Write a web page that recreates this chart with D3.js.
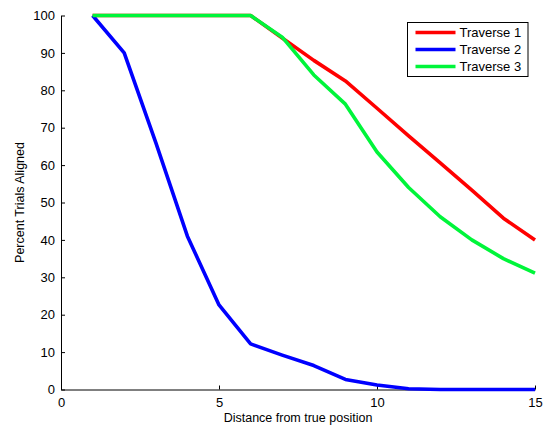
<!DOCTYPE html>
<html>
<head>
<meta charset="utf-8">
<script src="https://cdn.jsdelivr.net/npm/d3@7"></script>
<style>
  body { margin: 0; background: #fff; }
  svg { font-family: "Liberation Sans", Arial, sans-serif; }
</style>
</head>
<body>
<svg id="chart"></svg>
<script>
const width = 546;
const height = 427;
const margin = { top: 15.5, right: 11, bottom: 37.5, left: 61 };

// Data
const distance = [1, 2, 3, 4, 5, 6, 7, 8, 9, 10, 11, 12, 13, 14, 15];
const traverse1 = [100, 100, 100, 100, 100, 100, 94, 88, 82.5, 75.2, 67.8, 60.6, 53.3, 45.8, 40];
const traverse2 = [100, 90, 66, 41, 22.6, 12.2, 9.2, 6.4, 2.7, 1.2, 0.2, 0, 0, 0, 0];
const traverse3 = [100, 100, 100, 100, 100, 100, 94.2, 84.1, 76.3, 63.5, 54, 46.2, 40, 35, 31.1];
const seriesNames = ["Traverse 1", "Traverse 2", "Traverse 3"];
const seriesColors = ["#ff0000", "#0000ff", "#00f53a"];
const xTicks = [0, 5, 10, 15];
const yTicks = [0, 10, 20, 30, 40, 50, 60, 70, 80, 90, 100];

const svg = d3.select("#chart")
    .attr("width", width)
    .attr("height", height);

const x = d3.scaleLinear().domain([0, 15]).range([margin.left, width - margin.right]);
const y = d3.scaleLinear().domain([0, 100]).range([height - margin.bottom, margin.top]);

// Axes (MATLAB style: inward ticks)
const xAxis = svg.append("g")
    .attr("transform", `translate(0, ${height - margin.bottom})`)
    .call(d3.axisBottom(x).tickValues(xTicks).tickSize(-4).tickPadding(8).tickSizeOuter(0));
const yAxis = svg.append("g")
    .attr("transform", `translate(${margin.left}, 0)`)
    .call(d3.axisLeft(y).tickValues(yTicks).tickSize(-4).tickPadding(6).tickSizeOuter(0));

[xAxis, yAxis].forEach(a => {
    a.selectAll("text").style("font-size", "13px").style("fill", "#000")
        .style("font-family", "Liberation Sans, Arial, sans-serif");
    a.selectAll("line").attr("stroke", "#000");
    a.select(".domain").attr("stroke", "#000");
});

// Axis labels
svg.append("text")
    .attr("x", (margin.left + width - margin.right) / 2)
    .attr("y", 422)
    .attr("text-anchor", "middle")
    .style("font-size", "12.5px")
    .text("Distance from true position");

svg.append("text")
    .attr("transform", "rotate(-90)")
    .attr("x", -(margin.top + height - margin.bottom) / 2)
    .attr("y", 24)
    .attr("text-anchor", "middle")
    .style("font-size", "12.5px")
    .text("Percent Trials Aligned");

// Lines
const line = d3.line()
    .x((d, i) => x(distance[i]))
    .y(d => y(d));

[traverse1, traverse2, traverse3].forEach((vals, i) => {
    svg.append("path")
        .datum(vals)
        .attr("fill", "none")
        .attr("stroke", seriesColors[i])
        .attr("stroke-width", 3.6)
        .attr("stroke-linejoin", "round")
        .attr("d", line);
});

// Legend
const legend = svg.append("g")
    .attr("transform", "translate(407.5, 22.5)");

legend.append("rect")
    .attr("width", 120.5)
    .attr("height", 54)
    .attr("fill", "#fff")
    .attr("stroke", "#000");

seriesNames.forEach((name, i) => {
    const cy = 10 + i * 17;
    legend.append("line")
        .attr("x1", 8).attr("x2", 48)
        .attr("y1", cy).attr("y2", cy)
        .attr("stroke", seriesColors[i])
        .attr("stroke-width", 3.6);
    legend.append("text")
        .attr("x", 52)
        .attr("y", cy + 4.5)
        .style("font-size", "13px")
        .text(name);
});
</script>
</body>
</html>
